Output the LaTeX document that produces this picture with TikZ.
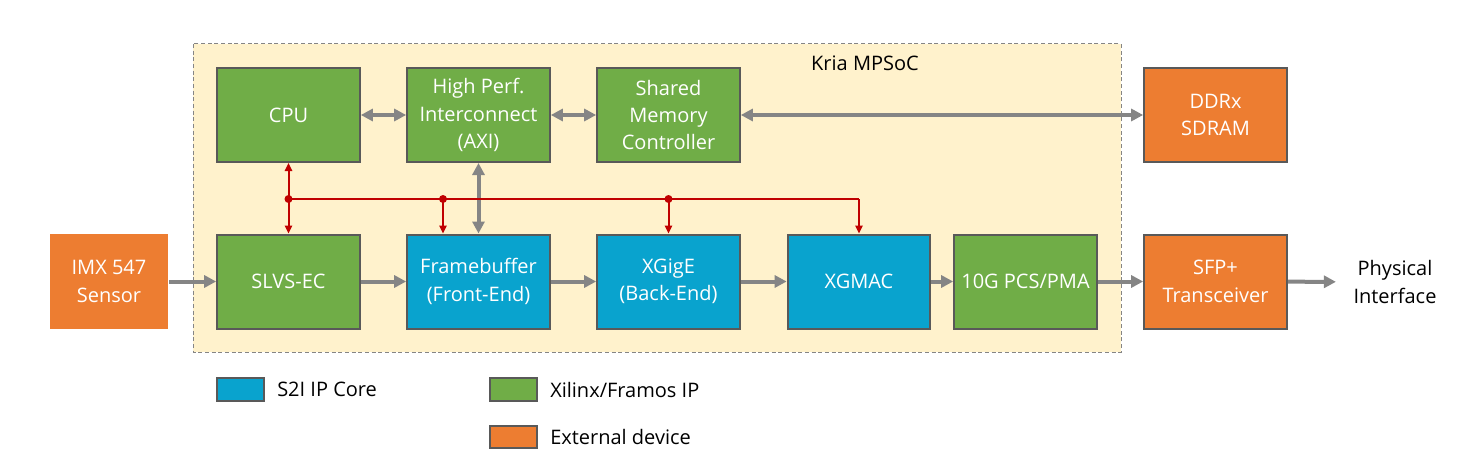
\documentclass[tikz,border=0pt]{standalone}
\usepackage{fontspec}
\setmainfont{Open Sans}
\usetikzlibrary{arrows.meta}

\definecolor{kriafill}{HTML}{FFF2CC}
\definecolor{xilgreen}{HTML}{70AD47}
\definecolor{sblue}{HTML}{09A3CE}
\definecolor{extorange}{HTML}{ED7D31}
\definecolor{boxedge}{HTML}{595959}
\definecolor{arrgray}{HTML}{858585}
\definecolor{busred}{HTML}{C00000}

\begin{document}
\begin{tikzpicture}[x=0.75pt, y=-0.75pt,
	txt/.style={font=\fontsize{15}{20.6}\selectfont, align=center},
	blk/.style={txt, draw=boxedge, line width=1.5pt, minimum width=107pt, minimum height=70.5pt, text=white, inner sep=0pt},
	green/.style={blk, fill=xilgreen},
	blue/.style={blk, fill=sblue},
	ext/.style={blk, fill=extorange},
	swatch/.style={draw=boxedge, line width=1.5pt, minimum width=35pt, minimum height=17pt, inner sep=0pt},
	flow/.style={draw=arrgray, line width=3pt, -{Triangle[length=9pt, width=9pt]}},
	dflow/.style={flow, {Triangle[length=9pt, width=9pt]}-{Triangle[length=9pt, width=9pt]}},
	bus/.style={draw=busred, line width=1.5pt},
	tap/.style={bus, -{Triangle[length=6pt, width=5.5pt]}},
	]
	
	\useasboundingbox (0,0) rectangle (1465,467);
	
	% Kria MPSoC area
	\draw[fill=kriafill, draw=arrgray, line width=0.75pt, dash pattern=on 3pt off 2pt] (193,44) rectangle (1121,352);
	\node[txt] (kria) at (865,63) {Kria MPSoC};
	
	% top row
	\node[green] (cpu) at (288.5,115) {CPU};
	\node[green] (hpi) at (478.5,115) {High Perf.\\Interconnect\\(AXI)};
	\node[green] (smc) at (668.5,115) {Shared\\Memory\\Controller};
	\node[ext] (ddr) at (1215.5,115) {DDRx\\SDRAM};
	
	% bottom row
	\node[ext, draw=none, minimum width=88.5pt, minimum height=71.25pt] (imx) at (109,281.5) {IMX 547\\Sensor};
	\node[green] (slvs) at (288.5,281.5) {SLVS-EC};
	\node[blue] (fb) at (478.5,281.5) {Framebuffer\\(Front-End)};
	\node[blue] (xgige) at (668.5,281.5) {XGigE\\(Back-End)};
	\node[blue] (xgmac) at (859,281.5) {XGMAC};
	\node[green] (pcs) at (1025.5,281.5) {10G PCS/PMA};
	\node[ext] (sfp) at (1215.5,281.5) {SFP+\\Transceiver};
	\node[txt, inner xsep=13pt] (phys) at (1395,282) {Physical\\Interface};
	
	% memory path
	\draw[dflow] (cpu) -- (hpi);
	\draw[dflow] (hpi) -- (smc);
	\draw[dflow] (smc) -- (ddr);
	\draw[dflow] (hpi) -- (fb);
	
	% video path
	\draw[flow] (imx) -- (slvs);
	\draw[flow] (slvs) -- (fb);
	\draw[flow] (fb) -- (xgige);
	\draw[flow] (xgige) -- (xgmac);
	\draw[flow] (xgmac) -- (pcs);
	\draw[flow] (pcs) -- (sfp);
	\draw[flow] (sfp) -- (phys);
	
	% control bus
	\coordinate (bcpu) at (288.5,199);
	\coordinate (bfb) at (443,199);
	\coordinate (bxg) at (668.5,199);
	\coordinate (bend) at (859,199);
	\draw[tap] (bcpu) -- (cpu);
	\draw[tap] (bcpu) -- (slvs);
	\draw[bus] (bcpu) -- (bend);
	\draw[tap] (bfb) -- (bfb |- fb.north);
	\draw[tap] (bxg) -- (xgige);
	\draw[tap] (bend) -- (xgmac);
	\foreach \p in {bcpu,bfb,bxg}
		\fill[busred] (\p) circle (3pt);
	
	% legend
	\node[swatch, fill=sblue] (lgblue) at (240.5,389.5) {};
	\node[txt, anchor=west, inner sep=0pt] (lgbluetxt) at (277,389.5) {S2I IP Core};
	\node[swatch, fill=xilgreen] (lggreen) at (513.5,389.5) {};
	\node[txt, anchor=west, inner sep=0pt] (lggreentxt) at (550,389.5) {Xilinx/Framos IP};
	\node[swatch, fill=extorange] (lgorange) at (513.5,437) {};
	\node[txt, anchor=west, inner sep=0pt] (lgorangetxt) at (550,437) {External device};
	
\end{tikzpicture}
\end{document}
